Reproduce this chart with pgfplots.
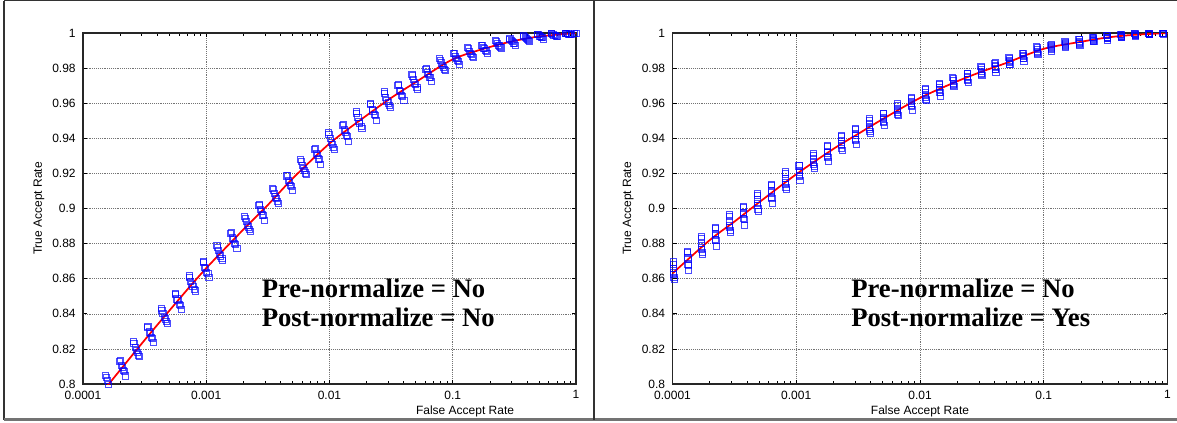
\documentclass[border=0pt]{standalone}
\usepackage{fontspec}
\setmainfont{Liberation Serif}
\setsansfont{Liberation Sans}
\usepackage{pgfplots}
\pgfplotsset{compat=1.18}
\begin{document}
\begin{tikzpicture}
\useasboundingbox (0pt,0pt) rectangle (882.75pt,316.5pt);
% frame
\draw[black!80, line width=0.9pt] (3pt,315.975pt) -- (882.75pt,315.975pt);
\draw[black!80, line width=0.9pt] (3pt,315.975pt) -- (3pt,1.875pt);
\draw[black!55, line width=1.6pt] (3pt,1.875pt) -- (882.75pt,1.875pt);
\draw[black!80, line width=0.9pt] (445.5pt,315.975pt) -- (445.5pt,1.875pt);

\begin{axis}[at={(62.25pt,28.5pt)}, anchor=south west,
  xmode=log, scale only axis, width=369.75pt, height=263.25pt,
  xmin=1e-4, xmax=1, ymin=0.8, ymax=1,
  xtick={1e-4,1e-3,1e-2,1e-1,1},
  xticklabels={0.0001,0.001,0.01,0.1,1},
  ytick={0.8,0.82,0.84,0.86,0.88,0.9,0.92,0.94,0.96,0.98,1},
  yticklabels={0.8,0.82,0.84,0.86,0.88,0.9,0.92,0.94,0.96,0.98,1},
  grid=major, major grid style={densely dotted, black!55, line width=0.45pt},
  tick style={black, line width=0.5pt}, major tick length=3pt, minor tick length=2.2pt,
  axis line style={black!85, line width=0.8pt},
  xticklabel style={font=\sffamily\fontsize{9}{10}\selectfont, yshift=-1.5pt},
  yticklabel style={font=\sffamily\fontsize{9}{10}\selectfont, xshift=-2pt},
  xlabel={False Accept Rate}, ylabel={True Accept Rate},
  xlabel style={font=\sffamily\fontsize{9}{10}\selectfont, at={(axis description cs:0.775,-0.0769)}, anchor=center},
  ylabel style={font=\sffamily\fontsize{9}{10}\selectfont, at={(axis description cs:-0.0892,0.5)}, anchor=center},
  ]
\addplot[only marks, mark=square, mark size=2.3pt, blue, mark options={draw opacity=0.7, line width=0.55pt}] coordinates {
(1.52e-4,0.8050) (1.57e-4,0.8020) (1.63e-4,0.7990) (1.70e-4,0.7965)
(1.98e-4,0.8131) (2.04e-4,0.8106) (2.12e-4,0.8076) (2.20e-4,0.8046)
(2.57e-4,0.8241) (2.65e-4,0.8211) (2.75e-4,0.8181) (2.86e-4,0.8156)
(3.33e-4,0.8322) (3.43e-4,0.8297) (3.57e-4,0.8267) (3.71e-4,0.8237)
(4.31e-4,0.8431) (4.45e-4,0.8401) (4.63e-4,0.8371) (4.81e-4,0.8346)
(5.60e-4,0.8510) (5.77e-4,0.8485) (6.01e-4,0.8455) (6.24e-4,0.8425)
(7.26e-4,0.8616) (7.49e-4,0.8586) (7.79e-4,0.8556) (8.10e-4,0.8531)
(9.41e-4,0.8692) (9.71e-4,0.8667) (1.01e-3,0.8637) (1.05e-3,0.8607)
(1.22e-3,0.8790) (1.26e-3,0.8760) (1.31e-3,0.8730) (1.36e-3,0.8705)
(1.58e-3,0.8858) (1.63e-3,0.8833) (1.70e-3,0.8803) (1.77e-3,0.8773)
(2.05e-3,0.8955) (2.12e-3,0.8925) (2.20e-3,0.8895) (2.29e-3,0.8870)
(2.67e-3,0.9019) (2.75e-3,0.8994) (2.87e-3,0.8964) (2.98e-3,0.8934)
(3.46e-3,0.9116) (3.57e-3,0.9086) (3.71e-3,0.9056) (3.86e-3,0.9031)
(4.48e-3,0.9186) (4.63e-3,0.9161) (4.81e-3,0.9131) (5.00e-3,0.9101)
(5.81e-3,0.9278) (6.00e-3,0.9248) (6.24e-3,0.9218) (6.49e-3,0.9193)
(7.54e-3,0.9338) (7.78e-3,0.9313) (8.10e-3,0.9283) (8.42e-3,0.9253)
(9.79e-3,0.9432) (1.01e-2,0.9399) (1.05e-2,0.9366) (1.09e-2,0.9339)
(1.27e-2,0.9476) (1.31e-2,0.9448) (1.37e-2,0.9415) (1.42e-2,0.9382)
(1.64e-2,0.9552) (1.70e-2,0.9519) (1.76e-2,0.9486) (1.83e-2,0.9459)
(2.14e-2,0.9595) (2.21e-2,0.9567) (2.30e-2,0.9534) (2.39e-2,0.9501)
(2.77e-2,0.9668) (2.86e-2,0.9635) (2.98e-2,0.9602) (3.10e-2,0.9575)
(3.59e-2,0.9700) (3.70e-2,0.9675) (3.86e-2,0.9645) (4.01e-2,0.9615)
(4.66e-2,0.9766) (4.81e-2,0.9736) (5.01e-2,0.9706) (5.20e-2,0.9681)
(6.05e-2,0.9793) (6.24e-2,0.9773) (6.50e-2,0.9749) (6.75e-2,0.9725)
(7.85e-2,0.9854) (8.09e-2,0.9830) (8.43e-2,0.9806) (8.76e-2,0.9786)
(0.102,0.9882) (0.105,0.9864) (0.109,0.9843) (0.113,0.9822)
(0.132,0.9918) (0.136,0.9897) (0.142,0.9876) (0.147,0.9859)
(0.171,0.9928) (0.176,0.9915) (0.184,0.9900) (0.191,0.9885)
(0.222,0.9957) (0.229,0.9942) (0.239,0.9927) (0.248,0.9915)
(0.288,0.9966) (0.297,0.9956) (0.309,0.9944) (0.321,0.9932)
(0.374,0.9987) (0.386,0.9975) (0.402,0.9963) (0.418,0.9953)
(0.485,0.9992) (0.501,0.9984) (0.521,0.9975) (0.542,0.9966)
(0.629,0.9998) (0.649,0.9992) (0.675,0.9986) (0.702,0.9981)
(0.816,1.0000) (0.842,0.9997) (0.876,0.9994) (0.910,0.9991)
(0.970,0.9998) (1.000,1.0000)
(1.54e-4,0.8040) (1.60e-4,0.8000) (1.66e-4,0.7975)
(2.00e-4,0.8136) (2.08e-4,0.8096) (2.16e-4,0.8071)
(2.59e-4,0.8231) (2.70e-4,0.8191) (2.81e-4,0.8166)
(3.36e-4,0.8327) (3.50e-4,0.8287) (3.64e-4,0.8262)
(4.36e-4,0.8421) (4.54e-4,0.8381) (4.72e-4,0.8356)
(5.65e-4,0.8515) (5.89e-4,0.8475) (6.13e-4,0.8450)
(7.33e-4,0.8606) (7.64e-4,0.8566) (7.95e-4,0.8541)
(9.51e-4,0.8697) (9.91e-4,0.8657) (1.03e-3,0.8632)
(1.23e-3,0.8780) (1.285e-3,0.8740) (1.34e-3,0.8715)
(1.60e-3,0.8863) (1.667e-3,0.8823) (1.73e-3,0.8798)
(2.07e-3,0.8945) (2.16e-3,0.8905) (2.25e-3,0.8880)
(2.70e-3,0.9024) (2.81e-3,0.8984) (2.92e-3,0.8959)
(3.49e-3,0.9106) (3.64e-3,0.9066) (3.79e-3,0.9041)
(4.53e-3,0.9191) (4.72e-3,0.9151) (4.91e-3,0.9126)
(5.88e-3,0.9268) (6.12e-3,0.9228) (6.36e-3,0.9203)
(7.62e-3,0.9343) (7.94e-3,0.9303) (8.26e-3,0.9278)
(9.89e-3,0.9421) (1.03e-2,0.9377) (1.07e-2,0.9350)
(1.29e-2,0.9481) (1.34e-2,0.9437) (1.39e-2,0.9410)
(1.66e-2,0.9541) (1.73e-2,0.9497) (1.80e-2,0.9470)
(2.16e-2,0.9600) (2.25e-2,0.9556) (2.34e-2,0.9529)
(2.80e-2,0.9657) (2.92e-2,0.9613) (3.04e-2,0.9586)
(3.63e-2,0.9705) (3.78e-2,0.9665) (3.93e-2,0.9640)
(4.71e-2,0.9756) (4.91e-2,0.9716) (5.11e-2,0.9691)
(6.12e-2,0.9797) (6.37e-2,0.9765) (6.62e-2,0.9745)
(7.93e-2,0.9846) (8.26e-2,0.9814) (8.59e-2,0.9794)
(0.103,0.9885) (0.107,0.9857) (0.111,0.9840)
(0.133,0.9911) (0.139,0.9883) (0.145,0.9866)
(0.173,0.9930) (0.180,0.9910) (0.187,0.9898)
(0.225,0.9952) (0.234,0.9932) (0.243,0.9920)
(0.291,0.9968) (0.303,0.9952) (0.315,0.9942)
(0.378,0.9983) (0.394,0.9967) (0.410,0.9957)
(0.491,0.9993) (0.511,0.9981) (0.531,0.9974)
(0.636,0.9996) (0.662,0.9988) (0.688,0.9983)
(0.825,0.9999) (0.859,0.9996) (0.893,0.9993)
};
\addplot[red, line width=1.3pt, smooth, tension=0.5, no marks] coordinates {
(1.2e-4,0.789) (1.62e-4,0.800) (3.16e-4,0.825) (6.31e-4,0.850) (1e-3,0.866)
(2e-3,0.888) (3.16e-3,0.902) (5.01e-3,0.917) (1e-2,0.937) (2e-2,0.953)
(3.16e-2,0.963) (5.01e-2,0.972) (0.1,0.985) (0.2,0.992) (0.316,0.9955)
(0.501,0.998) (1,1.0)
};
\end{axis}

\begin{axis}[at={(504.375pt,28.5pt)}, anchor=south west,
  xmode=log, scale only axis, width=371.25pt, height=263.25pt,
  xmin=1e-4, xmax=1, ymin=0.8, ymax=1,
  xtick={1e-4,1e-3,1e-2,1e-1,1},
  xticklabels={0.0001,0.001,0.01,0.1,1},
  ytick={0.8,0.82,0.84,0.86,0.88,0.9,0.92,0.94,0.96,0.98,1},
  yticklabels={0.8,0.82,0.84,0.86,0.88,0.9,0.92,0.94,0.96,0.98,1},
  grid=major, major grid style={densely dotted, black!55, line width=0.45pt},
  tick style={black, line width=0.5pt}, major tick length=3pt, minor tick length=2.2pt,
  axis line style={black!85, line width=0.8pt},
  xticklabel style={font=\sffamily\fontsize{9}{10}\selectfont, yshift=-1.5pt},
  yticklabel style={font=\sffamily\fontsize{9}{10}\selectfont, xshift=-2pt},
  xlabel={False Accept Rate}, ylabel={True Accept Rate},
  xlabel style={font=\sffamily\fontsize{9}{10}\selectfont, at={(axis description cs:0.5,-0.0769)}, anchor=center},
  ylabel style={font=\sffamily\fontsize{9}{10}\selectfont, at={(axis description cs:-0.0892,0.5)}, anchor=center},
  ]
\addplot[only marks, mark=square, mark size=2.3pt, blue, mark options={draw opacity=0.7, line width=0.55pt}] coordinates {
(1.01e-4,0.8696) (1.02e-4,0.8660) (1.02e-4,0.8624) (1.03e-4,0.8594)
(1.32e-4,0.8750) (1.33e-4,0.8720) (1.33e-4,0.8684) (1.34e-4,0.8648)
(1.70e-4,0.8839) (1.72e-4,0.8803) (1.72e-4,0.8767) (1.74e-4,0.8737)
(2.21e-4,0.8888) (2.23e-4,0.8858) (2.23e-4,0.8822) (2.25e-4,0.8786)
(2.87e-4,0.8965) (2.90e-4,0.8929) (2.90e-4,0.8893) (2.93e-4,0.8863)
(3.72e-4,0.9008) (3.76e-4,0.8978) (3.76e-4,0.8942) (3.80e-4,0.8906)
(4.83e-4,0.9088) (4.88e-4,0.9052) (4.88e-4,0.9016) (4.93e-4,0.8986)
(6.26e-4,0.9131) (6.32e-4,0.9101) (6.32e-4,0.9065) (6.38e-4,0.9029)
(8.12e-4,0.9209) (8.20e-4,0.9173) (8.20e-4,0.9137) (8.28e-4,0.9107)
(1.05e-3,0.9243) (1.06e-3,0.9218) (1.06e-3,0.9188) (1.07e-3,0.9158)
(1.37e-3,0.9313) (1.38e-3,0.9283) (1.38e-3,0.9253) (1.39e-3,0.9228)
(1.77e-3,0.9352) (1.79e-3,0.9327) (1.79e-3,0.9297) (1.81e-3,0.9267)
(2.30e-3,0.9418) (2.32e-3,0.9388) (2.32e-3,0.9358) (2.34e-3,0.9333)
(2.98e-3,0.9451) (3.01e-3,0.9426) (3.01e-3,0.9396) (3.04e-3,0.9366)
(3.87e-3,0.9514) (3.91e-3,0.9484) (3.91e-3,0.9454) (3.95e-3,0.9429)
(5.02e-3,0.9540) (5.07e-3,0.9520) (5.07e-3,0.9496) (5.12e-3,0.9472)
(6.51e-3,0.9597) (6.58e-3,0.9573) (6.58e-3,0.9549) (6.65e-3,0.9529)
(8.45e-3,0.9630) (8.53e-3,0.9610) (8.53e-3,0.9586) (8.62e-3,0.9562)
(1.10e-2,0.9684) (1.11e-2,0.9660) (1.11e-2,0.9636) (1.12e-2,0.9616)
(1.43e-2,0.9708) (1.44e-2,0.9688) (1.44e-2,0.9664) (1.45e-2,0.9640)
(1.84e-2,0.9745) (1.86e-2,0.9727) (1.86e-2,0.9709) (1.88e-2,0.9694)
(2.40e-2,0.9769) (2.42e-2,0.9754) (2.42e-2,0.9736) (2.44e-2,0.9718)
(3.10e-2,0.9809) (3.13e-2,0.9791) (3.13e-2,0.9773) (3.16e-2,0.9758)
(4.02e-2,0.9828) (4.06e-2,0.9813) (4.06e-2,0.9795) (4.10e-2,0.9777)
(5.22e-2,0.9861) (5.27e-2,0.9846) (5.27e-2,0.9831) (5.32e-2,0.9819)
(6.77e-2,0.9884) (6.84e-2,0.9871) (6.84e-2,0.9856) (6.91e-2,0.9841)
(8.78e-2,0.9921) (8.87e-2,0.9906) (8.87e-2,0.9891) (8.96e-2,0.9879)
(0.114,0.9932) (0.115,0.9922) (0.115,0.9910) (0.116,0.9898)
(0.148,0.9953) (0.149,0.9941) (0.149,0.9929) (0.150,0.9919)
(0.192,0.9962) (0.194,0.9952) (0.194,0.9940) (0.196,0.9928)
(0.248,0.9977) (0.251,0.9968) (0.251,0.9959) (0.254,0.9952)
(0.323,0.9985) (0.326,0.9977) (0.326,0.9968) (0.329,0.9959)
(0.419,0.9992) (0.423,0.9986) (0.423,0.9980) (0.427,0.9975)
(0.543,0.9997) (0.548,0.9992) (0.548,0.9986) (0.553,0.9980)
(0.704,0.9999) (0.711,0.9996) (0.711,0.9993) (0.718,0.9991)
(0.914,1.0000) (0.923,1.0000) (0.923,0.9997) (0.932,0.9994)
(1.015e-4,0.8684) (1.02e-4,0.8636) (1.025e-4,0.8606)
(1.32e-4,0.8756) (1.33e-4,0.8708) (1.34e-4,0.8678)
(1.71e-4,0.8827) (1.72e-4,0.8779) (1.73e-4,0.8749)
(2.22e-4,0.8894) (2.23e-4,0.8846) (2.24e-4,0.8816)
(2.88e-4,0.8953) (2.90e-4,0.8905) (2.92e-4,0.8875)
(3.74e-4,0.9014) (3.76e-4,0.8966) (3.78e-4,0.8936)
(4.86e-4,0.9076) (4.88e-4,0.9028) (4.90e-4,0.8998)
(6.29e-4,0.9137) (6.32e-4,0.9089) (6.35e-4,0.9059)
(8.16e-4,0.9197) (8.20e-4,0.9149) (8.24e-4,0.9119)
(1.055e-3,0.9248) (1.06e-3,0.9208) (1.065e-3,0.9183)
(1.37e-3,0.9303) (1.38e-3,0.9263) (1.39e-3,0.9238)
(1.78e-3,0.9357) (1.79e-3,0.9317) (1.80e-3,0.9292)
(2.31e-3,0.9408) (2.32e-3,0.9368) (2.33e-3,0.9343)
(3.00e-3,0.9456) (3.01e-3,0.9416) (3.02e-3,0.9391)
(3.89e-3,0.9504) (3.91e-3,0.9464) (3.93e-3,0.9439)
(5.05e-3,0.9544) (5.07e-3,0.9512) (5.09e-3,0.9492)
(6.55e-3,0.9589) (6.58e-3,0.9557) (6.61e-3,0.9537)
(8.49e-3,0.9634) (8.53e-3,0.9602) (8.57e-3,0.9582)
(1.105e-2,0.9676) (1.11e-2,0.9644) (1.115e-2,0.9624)
(1.43e-2,0.9712) (1.44e-2,0.9680) (1.45e-2,0.9660)
(1.85e-2,0.9739) (1.86e-2,0.9715) (1.87e-2,0.9700)
(2.41e-2,0.9772) (2.42e-2,0.9748) (2.43e-2,0.9733)
(3.11e-2,0.9803) (3.13e-2,0.9779) (3.15e-2,0.9764)
(4.04e-2,0.9831) (4.06e-2,0.9807) (4.08e-2,0.9792)
(5.24e-2,0.9856) (5.27e-2,0.9836) (5.30e-2,0.9824)
(6.80e-2,0.9886) (6.84e-2,0.9866) (6.88e-2,0.9854)
(8.83e-2,0.9916) (8.87e-2,0.9896) (8.91e-2,0.9884)
(0.1145,0.9934) (0.115,0.9918) (0.1155,0.9908)
(0.1483,0.9949) (0.149,0.9933) (0.1497,0.9923)
(0.193,0.9964) (0.194,0.9948) (0.195,0.9938)
(0.250,0.9974) (0.251,0.9962) (0.252,0.9955)
(0.324,0.9986) (0.326,0.9974) (0.328,0.9967)
(0.421,0.9990) (0.423,0.9982) (0.425,0.9977)
(0.545,0.9998) (0.548,0.9990) (0.551,0.9985)
(0.707,0.9998) (0.711,0.9994) (0.715,0.9992)
(0.918,1.0000) (0.923,0.9999) (0.928,0.9996)
};
\addplot[red, line width=1.3pt, smooth, tension=0.5, no marks] coordinates {
(1e-4,0.863) (2e-4,0.882) (3.16e-4,0.8925) (5.01e-4,0.9035) (1e-3,0.9195)
(2e-3,0.934) (3.16e-3,0.9425) (5.01e-3,0.951) (1e-2,0.963) (2e-2,0.9725)
(3.16e-2,0.978) (5.01e-2,0.983) (0.1,0.991) (0.2,0.995) (0.316,0.9973)
(0.501,0.9988) (1,1.0)
};
\end{axis}

\begin{scope}[every node/.style={anchor=base west, inner sep=0pt, font=\bfseries\fontsize{20}{24}\selectfont}]
\node at (196.125pt,93.75pt) {Pre-normalize = No};
\node at (196.125pt,72pt) {Post-normalize = No};
\node at (638.25pt,93.75pt) {Pre-normalize = No};
\node at (638.25pt,72pt) {Post-normalize = Yes};
\end{scope}
\end{tikzpicture}
\end{document}
